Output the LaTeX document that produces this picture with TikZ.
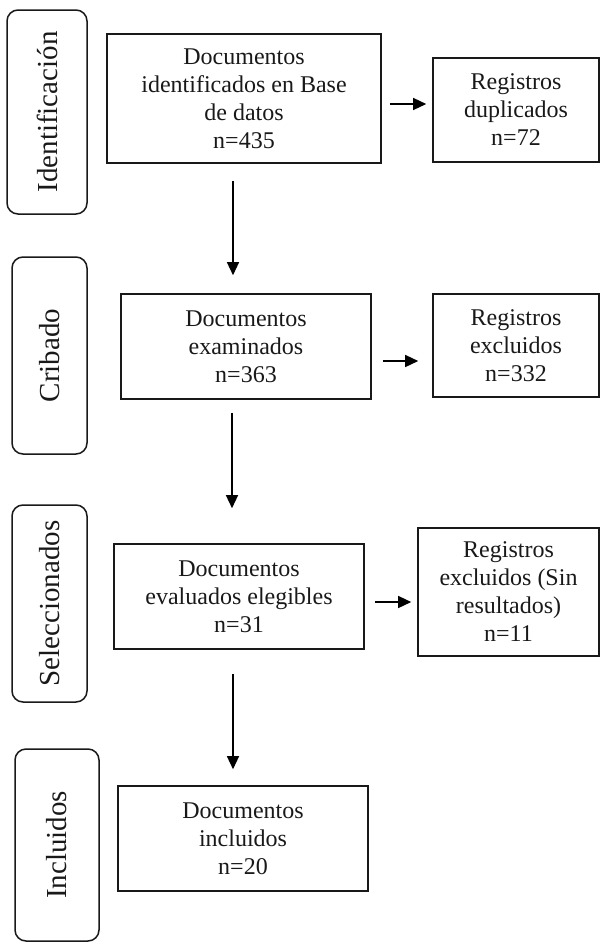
\documentclass[tikz,border=0pt]{standalone}
\usepackage{fontspec}
\setmainfont{Liberation Serif}
\usetikzlibrary{arrows.meta,calc}
\begin{document}
\begin{tikzpicture}[x=1pt,y=-1pt,
  box/.style={draw=black!90, line width=1.6pt, inner sep=0pt, align=center,
    font=\fontsize{24}{28}\selectfont, text=black!90},
  stage/.style={draw=black!90, line width=1.5pt, rounded corners=11pt, rotate=90,
    inner sep=0pt, font=\fontsize{29}{34}\selectfont, text=black!90},
  arr/.style={line width=1.4pt, draw=black, -{Triangle[length=13pt,width=12pt]}}]
\useasboundingbox (0,0) rectangle (600,943);

% stage labels
\node[stage, minimum width=204pt, minimum height=80pt] (s1) at (47,112) {Identificación};
\node[stage, minimum width=197pt, minimum height=75pt] (s2) at (49.5,355.5) {Cribado};
\node[stage, minimum width=197pt, minimum height=75pt] (s3) at (49.5,603.5) {Seleccionados};
\node[stage, minimum width=192pt, minimum height=84pt] (s4) at (57,845) {Incluidos};

% main boxes
\node[box, minimum width=274pt, minimum height=129pt] (b1) at (244,98.5)
  {Documentos\\identificados en Base\\de datos\\n=435};
\node[box, minimum width=250pt, minimum height=105pt] (b2) at (246,346.5)
  {Documentos\\examinados\\n=363};
\node[box, minimum width=250pt, minimum height=105pt] (b3) at (239,596.5)
  {Documentos\\evaluados elegibles\\n=31};
\node[box, minimum width=250pt, minimum height=105pt] (b4) at (243,838.5)
  {Documentos\\incluidos\\n=20};

% side boxes
\node[box, minimum width=166pt, minimum height=104pt] (r1) at (516,110)
  {Registros\\duplicados\\n=72};
\node[box, minimum width=166pt, minimum height=103pt] (r2) at (516,345.5)
  {Registros\\excluidos\\n=332};
\node[box, minimum width=181pt, minimum height=128pt] (r3) at (508.5,592)
  {Registros\\excluidos (Sin\\resultados)\\n=11};

% arrow guide coordinates
\coordinate (ha1) at (0,104);
\coordinate (ha2) at (0,361);
\coordinate (ha3) at (0,602);
\coordinate (va1) at (233,0);
\coordinate (va2) at (232,0);
\coordinate (va3) at (233,0);

% horizontal arrows
\draw[arr, shorten <=8pt, shorten >=6pt] (b1.east |- ha1) -- (r1.west |- ha1);
\draw[arr, shorten <=11pt, shorten >=14pt] (b2.east |- ha2) -- (r2.west |- ha2);
\draw[arr, shorten <=10pt, shorten >=6pt] (b3.east |- ha3) -- (r3.west |- ha3);

% vertical arrows
\draw[arr, shorten <=17pt, shorten >=18pt] (b1.south -| va1) -- (b2.north -| va1);
\draw[arr, shorten <=13pt, shorten >=35pt] (b2.south -| va2) -- (b3.north -| va2);
\draw[arr, shorten <=24pt, shorten >=16pt] (b3.south -| va3) -- (b4.north -| va3);
\end{tikzpicture}
\end{document}
